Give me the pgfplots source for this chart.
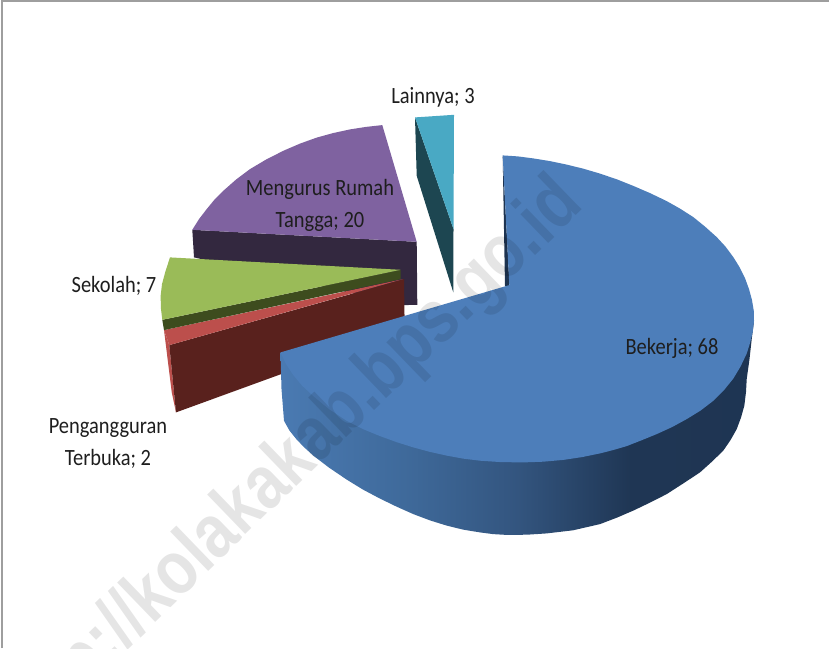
\documentclass[border=0pt]{standalone}
\usepackage{graphicx}
\usepackage{pgfplots}
\usepackage{fontspec}
\setmainfont{Carlito}
\newfontfamily\wm{Liberation Sans}
\pgfplotsset{compat=1.18}
\definecolor{cblue}{HTML}{4D7EBA}
\definecolor{cpurple}{HTML}{7F62A0}
\definecolor{cgreen}{HTML}{9ABB58}
\definecolor{cred}{HTML}{BC4F4C}
\definecolor{cteal}{HTML}{49A9C4}
\definecolor{dpurple}{HTML}{33283F}
\definecolor{dgreen}{HTML}{3D4C1E}
\definecolor{dred}{HTML}{59211D}
\definecolor{dteal}{HTML}{1D4651}
\definecolor{dblue}{HTML}{1D3350}
\definecolor{txt}{HTML}{1E1E1E}
\definecolor{s1}{HTML}{4A7AB2}
\definecolor{s2}{HTML}{3F6A9B}
\definecolor{s3}{HTML}{33557F}
\definecolor{s4}{HTML}{1F3654}
\pgfdeclarehorizontalshading{bluesh}{100bp}{color(0bp)=(s1);color(25bp)=(s1);color(38bp)=(s2);color(50bp)=(s3);color(62bp)=(s4);color(100bp)=(dblue)}
\newcommand{\lab}[1]{\scalebox{0.93}[1.06]{\fontsize{22}{22}\selectfont #1}}
\begin{document}
\begin{tikzpicture}
\begin{axis}[
  width=829pt,height=649pt,scale only axis,
  xmin=0,xmax=829,ymin=0,ymax=649,y dir=reverse,
  hide axis,clip=true,
]
% frame
\addplot[draw=black!38,line width=2.2pt] coordinates {(2,649)(2,2)(829,2)};
% teal
\addplot[fill=dteal,draw=none] coordinates {(415,118.3)(453.5,230)(453.3,293.3)(416.7,176.7)} --cycle;
\addplot[fill=cteal,draw=none] coordinates {(415,118.3)(454,115.7)(453.5,230)} --cycle;
% purple
\addplot[fill=dpurple,draw=none] coordinates {(192.3,230.7)(416.7,242.7)(417.3,305.7)(404,306)(194,258.3)} --cycle;
\addplot[fill=cpurple,draw=none] coordinates {(416.7,242.7)(382.3,126)(366,127.8)(350,130.3)(333,134)(316.7,138.5)(300,144.5)(283.3,151.7)(266,160.5)(250,170)(236,180.5)(223.3,191.7)(214.5,200.5)(206.7,210)(199,220)(192.3,230.7)} --cycle;
% red
\addplot[fill=cred,draw=none] coordinates {(164,331)(169.3,346)(176,413.3)(171.7,393)} --cycle;
\addplot[fill=dred,draw=none] coordinates {(169.3,346)(404,280)(404.7,330)(176,413.3)} --cycle;
\addplot[fill=cred,draw=none] coordinates {(164,331)(403,280)(169.3,346)} --cycle;
% green
\addplot[fill=dgreen,draw=none] coordinates {(162.3,320.7)(400.7,270.7)(400.7,280)(164,331)} --cycle;
\addplot[fill=cgreen,draw=none] coordinates {(400.7,270.7)(170,258.3)(165.5,272)(162,285)(160.6,297)(161,310)(162.3,320.7)} --cycle;
% blue side
\addplot[shading=bluesh,draw=none] coordinates {(280.5,353.3)(281.5,390)(284,421.7)(289.5,431.5)(296.7,440.5)(304.5,448.5)(313.3,456.5)(329,468.5)(346.7,480.5)(363,490.5)(380,499.5)(396.5,507.5)(413.3,515)(430,521.3)(446.7,526.5)(463,530.5)(480,533.3)(493,535)(506.7,535.8)(527,535.6)(546.7,534.3)(573,531.2)(600,525)(617,518.5)(633.3,511.5)(650,503.5)(666.7,495)(683,484.5)(700,473.3)(712,462.5)(723.3,451.5)(730.5,441)(736.7,430)(741,418.5)(744.3,406.7)(746,393)(746.7,380)(749.5,360)(751.7,340)(754,322)} --cycle;
% blue sliver
\addplot[fill=dblue,draw=none] coordinates {(502.7,157)(505,287)(509.5,287)} --cycle;
% blue top
\addplot[fill=cblue,draw=none] coordinates {(509.3,286)(502.7,156.3)(518,157.3)(533.3,159.3)(550,162)(566.7,165.5)(583,169.5)(600,174.5)(617,180.3)(633.3,186.8)(650,194)(666.7,202)(680,209.5)(693.3,218)(705,227.5)(716.7,238)(725.5,247.5)(733.3,258)(739.5,268)(745,279)(749,290)(752,301)(753.8,312)(754,322)(752.7,333)(750,344)(746.7,354.5)(740.5,367.5)(733.3,379.5)(724,391)(713.3,401.7)(700.5,411.5)(686.7,420)(672,428)(656.7,435)(642,441)(626.7,447)(613,451)(600,454.3)(582,458)(563.3,460.8)(543,462.6)(523.3,463.3)(501,463)(480,461.6)(463,459.5)(446.7,456.5)(430,452.8)(413.3,448.3)(396.5,443)(380,437)(363,430)(346.7,421.7)(329,410)(313.3,397)(302,386.5)(293.3,376)(286,365)(280.5,353.3)} --cycle;
% labels
\node[text=txt] at (axis cs:433,98) {\lab{Lainnya; 3}};
\node[text=txt] at (axis cs:320,190) {\lab{Mengurus Rumah}};
\node[text=txt] at (axis cs:320,223) {\lab{Tangga; 20}};
\node[text=txt] at (axis cs:114,287) {\lab{Sekolah; 7}};
\node[text=txt] at (axis cs:108,429) {\lab{Pengangguran}};
\node[text=txt] at (axis cs:108,460) {\lab{Terbuka; 2}};
\node[text=txt] at (axis cs:672,349) {\lab{Bekerja; 68}};
% watermark
\node[text=black,opacity=0.1,rotate=44,anchor=east,inner sep=0pt] at (axis cs:572,194) {\scalebox{1}[1.2]{\fontsize{63}{63}\selectfont\bfseries\wm http://kolakakab.bps.go.id}};
\end{axis}
\end{tikzpicture}
\end{document}
